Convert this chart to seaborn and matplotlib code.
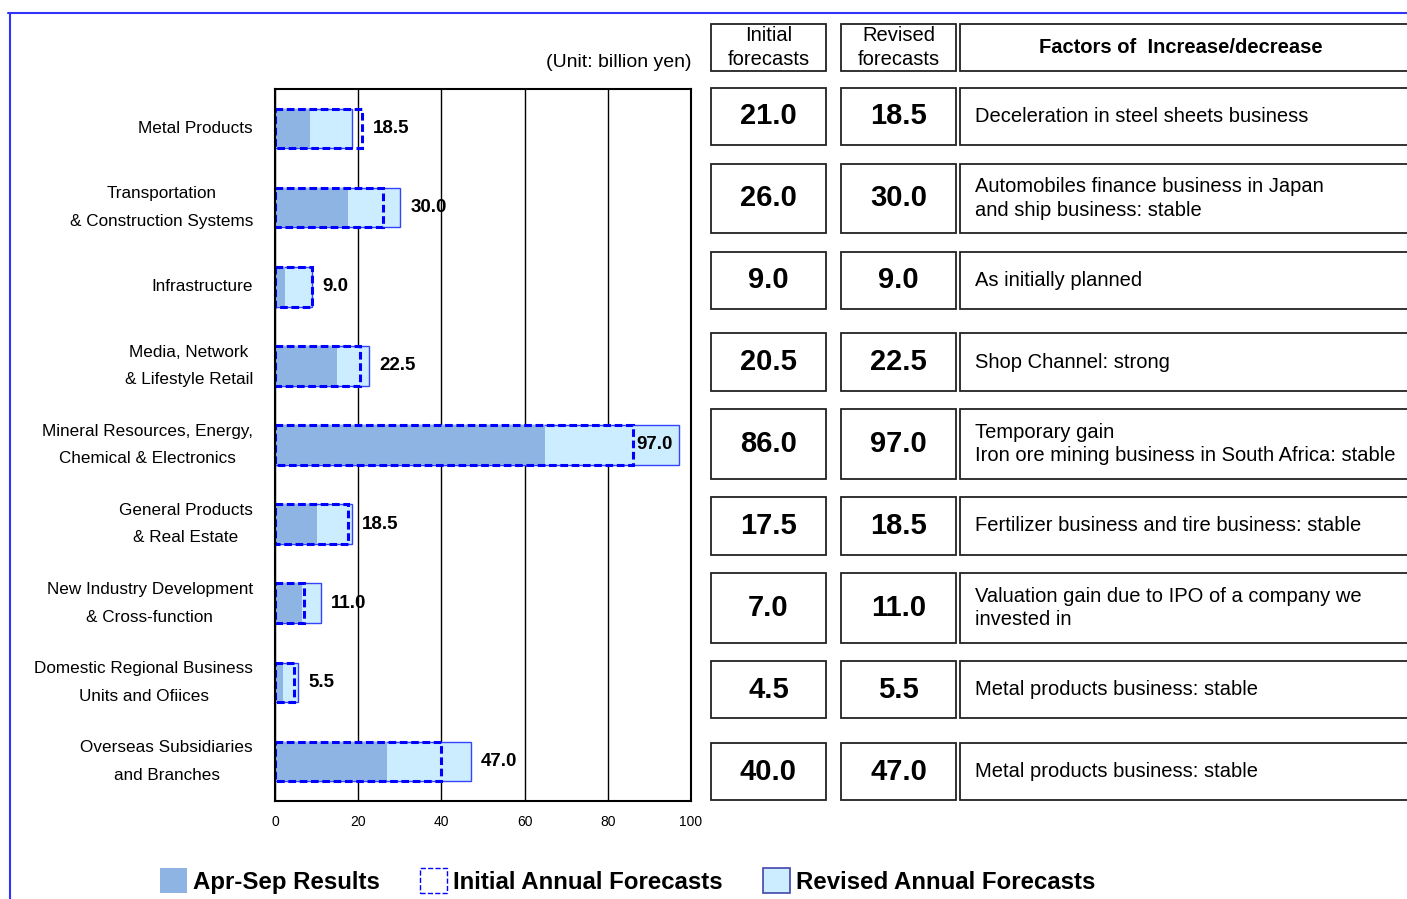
import matplotlib
matplotlib.use('Agg')
import matplotlib.pyplot as plt
import matplotlib.transforms as mtransforms
import seaborn as sns
from matplotlib.patches import Patch, Rectangle
from matplotlib.lines import Line2D

# Data (billion yen)
segments = ['Metal Products',
            'Transportation\n& Construction Systems',
            'Infrastructure',
            'Media, Network\n& Lifestyle Retail',
            'Mineral Resources, Energy,\nChemical & Electronics',
            'General Products\n& Real Estate',
            'New Industry Development\n& Cross-function',
            'Domestic Regional Business\nUnits and Ofiices',
            'Overseas Subsidiaries\nand Branches']
results = [8.5, 17.5, 2.5, 15.0, 65.0, 10.0, 6.5, 2.0, 27.0]
initial = [21.0, 26.0, 9.0, 20.5, 86.0, 17.5, 7.0, 4.5, 40.0]
revised = [18.5, 30.0, 9.0, 22.5, 97.0, 18.5, 11.0, 5.5, 47.0]
factors = ['Deceleration in steel sheets business',
           'Automobiles finance business in Japan\nand ship business: stable',
           'As initially planned',
           'Shop Channel: strong',
           'Temporary gain\nIron ore mining business in South Africa: stable',
           'Fertilizer business and tire business: stable',
           'Valuation gain due to IPO of a company we\ninvested in',
           'Metal products business: stable',
           'Metal products business: stable']
x_ticks = [0, 20, 40, 60, 80, 100]

sns.set_style('white')
plt.rcParams['font.family'] = ['Liberation Sans', 'DejaVu Sans']
plt.rcParams['text.color'] = 'black'
plt.rcParams['xtick.color'] = 'black'
plt.rcParams['ytick.color'] = 'black'

dark = '#8EB4E3'
light = '#CCECFF'
blue = '#0000FF'

W, H = 1407, 899
fig = plt.figure(figsize=(W / 100, H / 100), dpi=100)

# bar chart
ax = fig.add_axes([275 / W, 1 - 801 / H, 416 / W, 712 / H])
sns.barplot(x=revised, y=segments, orient='h', color=light, saturation=1,
            edgecolor='#3344FF', linewidth=1, width=0.5, ax=ax)
sns.barplot(x=results, y=segments, orient='h', color=dark, saturation=1,
            linewidth=0, width=0.5, ax=ax)
sns.barplot(x=initial, y=segments, orient='h', color=blue, saturation=1, fill=False,
            linewidth=2.2, linestyle=(0, (2.5, 1.2)), width=0.5, ax=ax)

ax.set_xlim(0, 100)
ax.set_ylim(len(segments) - 0.5, -0.5)
ax.set_xticks(x_ticks)
ax.set_xticklabels([str(t) for t in x_ticks], fontsize=10)
ax.tick_params(axis='x', length=0, pad=10)
ax.set_yticks(range(len(segments)), [''] * len(segments))
ax.tick_params(axis='y', length=0)
ax.set_yticks([i + 0.5 for i in range(len(segments) - 1)], minor=True)
ax.tick_params(axis='y', which='minor', direction='in', length=5, width=1, color='#333333')
ax.grid(axis='x', color='black', lw=1)
ax.set_axisbelow(True)
for s in ax.spines.values():
    s.set_color('black')
    s.set_linewidth(1.5)
ax.set_xlabel('')
ax.set_ylabel('')

# category labels (centred multi-line, like the original slide)
lab_tr = mtransforms.offset_copy(ax.get_yaxis_transform(), fig=fig, x=-22, y=0, units='dots')
for i, seg in enumerate(segments):
    ax.text(0, i, seg, transform=lab_tr, ha='right', va='center', multialignment='center',
            fontsize=12.3, linespacing=2.05)

for i, (a, b) in enumerate(zip(initial, revised)):
    if b > 90:
        ax.text(b - 1.5, i, f'{b:.1f}', ha='right', va='center', fontsize=13.5, fontweight='bold')
    else:
        ax.text(max(a, b) + 2.5, i, f'{b:.1f}', ha='left', va='center', fontsize=13.5,
                fontweight='bold')

ax.text(1.0, -0.5 - 26 / 79.1, '(Unit: billion yen)', transform=ax.get_yaxis_transform(),
        ha='right', va='center', fontsize=14)

# table on the right
t_top, t_pitch = 75.5, 81.9
tx = fig.add_axes([711 / W, 1 - (t_top + 9 * t_pitch) / H, 700 / W, 9 * t_pitch / H])
tx.set_xlim(0, 700)
tx.set_ylim(len(segments) - 0.5, -0.5)
tx.axis('off')

cols = [(0, 115), (130, 115), (249, 600)]

def box(x0, w, yc, h):
    tx.add_patch(Rectangle((x0, yc - h / 2), w, h, facecolor='white', edgecolor='#222222',
                           lw=1.3, clip_on=False))

hy = -0.842
for x0, w in cols:
    box(x0, w, hy, 0.574)
tx.text(57.5, hy, 'Initial\nforecasts', ha='center', va='center', fontsize=14.5, linespacing=1.35)
tx.text(187.5, hy, 'Revised\nforecasts', ha='center', va='center', fontsize=14.5, linespacing=1.35)
tx.text(470, hy, 'Factors of  Increase/decrease', ha='center', va='center', fontsize=14.5,
        fontweight='bold')

for i, (a, b, f) in enumerate(zip(initial, revised, factors)):
    h = 0.85 if '\n' in f else 0.70
    for x0, w in cols:
        box(x0, w, i, h)
    tx.text(57.5, i, f'{a:.1f}', ha='center', va='center', fontsize=21, fontweight='bold')
    tx.text(187.5, i, f'{b:.1f}', ha='center', va='center', fontsize=21, fontweight='bold')
    tx.text(264, i, f, ha='left', va='center', fontsize=14.5, linespacing=1.3)

# legend
handles = [Patch(facecolor=dark, edgecolor='none'),
           Patch(facecolor='none', edgecolor=blue, linestyle='--', lw=1),
           Patch(facecolor=light, edgecolor='#4444AA', lw=1.2)]
fig.legend(handles, ['Apr-Sep Results', 'Initial Annual Forecasts', 'Revised Annual Forecasts'],
           loc='center', bbox_to_anchor=(0.446, 0.02), ncol=3, frameon=False,
           prop={'size': 17.3, 'weight': 'bold'}, handlelength=1.1, handleheight=1.2,
           handletextpad=0.25, columnspacing=1.7)

# blue frame
fig.add_artist(Line2D([8 / W, 1], [1 - 13 / H, 1 - 13 / H], transform=fig.transFigure,
                      color='#3333FF', lw=1.5))
fig.add_artist(Line2D([10 / W, 10 / W], [0, 1 - 13 / H], transform=fig.transFigure,
                      color='#3333FF', lw=1.5))

fig.savefig('out.png', dpi=100)
